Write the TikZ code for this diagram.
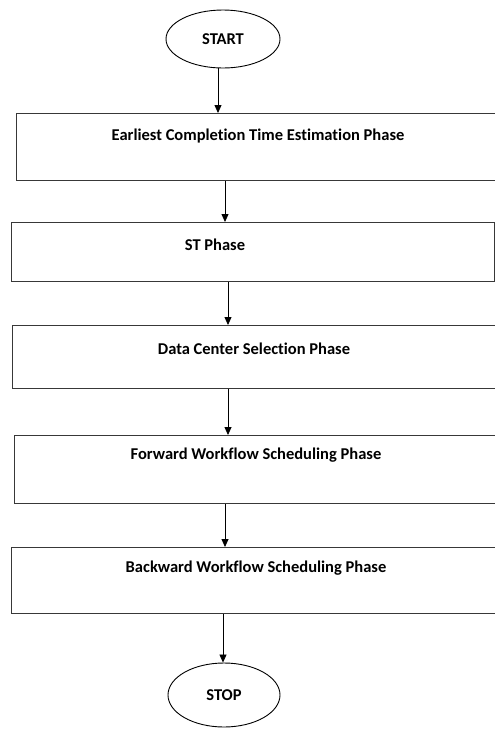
\documentclass[tikz,border=0pt]{standalone}
\usepackage{fontspec}
\setmainfont{Carlito}[Ligatures=NoCommon]
\usetikzlibrary{shapes.geometric,arrows.meta}
\begin{document}
\begin{tikzpicture}[x=1pt,y=-1pt,
  phase/.style={draw=black!78, line width=1.2pt, anchor=north west, inner sep=0pt, minimum height=#1},
  phasetext/.style={font=\bfseries\fontsize{16.5}{19}\selectfont, inner sep=0pt, anchor=center},
  terminal/.style={ellipse, draw=black, line width=0.9pt, inner sep=0pt, font=\bfseries\fontsize{16.5}{19}\selectfont},
  flow/.style={draw=black, line width=0.8pt, -{Triangle[length=8pt,width=7pt]}}]
\useasboundingbox (0,0) rectangle (495,729);
\clip (0,0) rectangle (495,729);

% terminals
\node[terminal, minimum width=114pt, minimum height=58pt] (start) at (223,39) {START};
\node[terminal, minimum width=112pt, minimum height=64pt] (stop) at (224,695) {STOP};

% phase boxes (the right-hand sides run off the page)
\node[phase=67pt, minimum width=484pt] (b1) at (16,113) {};
\node[phase=59pt, minimum width=483pt] (b2) at (11,222) {};
\node[phase=63pt, minimum width=488pt] (b3) at (12,325) {};
\node[phase=68pt, minimum width=486pt] (b4) at (14,435) {};
\node[phase=66pt, minimum width=489pt] (b5) at (11,547) {};

% phase titles
\node[phasetext] (t1) at (258,136) {Earliest Completion Time Estimation Phase};
\node[phasetext] (t2) at (215,245) {ST Phase};
\node[phasetext] (t3) at (254,349) {Data Center Selection Phase};
\node[phasetext] (t4) at (256,455) {Forward Workflow Scheduling Phase};
\node[phasetext] (t5) at (256,568) {Backward Workflow Scheduling Phase};

% connectors
\draw[flow] (start.south -| 218,0) -- (b1.north -| 218,0);
\draw[flow] (b1.south -| 225,0) -- (b2.north -| 225,0);
\draw[flow] (b2.south -| 228,0) -- (b3.north -| 228,0);
\draw[flow] (b3.south -| 228,0) -- (b4.north -| 228,0);
\draw[flow] (b4.south -| 225,0) -- (b5.north -| 225,0);
\draw[flow] (b5.south -| 223,0) -- (stop.north -| 223,0);
\end{tikzpicture}
\end{document}
